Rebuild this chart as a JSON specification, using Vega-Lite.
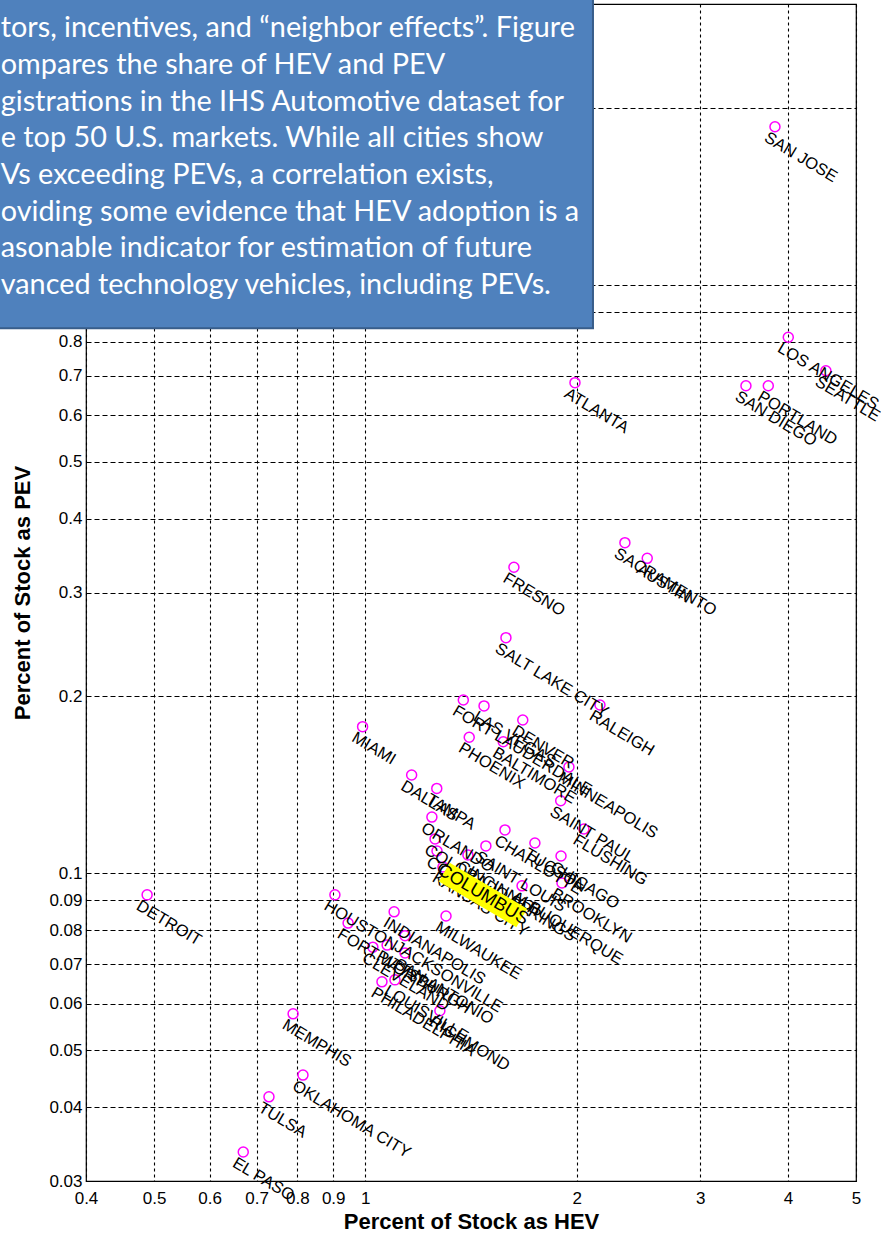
{
  "$schema": "https://vega.github.io/schema/vega-lite/v6.json",
  "width": 770,
  "height": 1177,
  "autosize": {"type": "none"},
  "padding": {"left": 86, "top": 4, "right": 25, "bottom": 56},
  "background": "white",
  "config": {
    "view": {"stroke": "#000000", "strokeWidth": 1.2},
    "axis": {
      "gridColor": "#000000", "gridOpacity": 1, "gridWidth": 1.1,
      "ticks": false, "domain": false,
      "labelFont": "Liberation Sans", "labelFontSize": 17, "labelColor": "#000000",
      "titleFont": "Liberation Sans", "titleFontSize": 22, "titleFontWeight": "bold", "titleColor": "#000000"
    }
  },
  "datasets": {
    "cities": [
      {"city": "SAN JOSE", "hev": 3.833, "pev": 1.856},
      {"city": "LOS ANGELES", "hev": 4.004, "pev": 0.8145},
      {"city": "SEATTLE", "hev": 4.53, "pev": 0.7143},
      {"city": "PORTLAND", "hev": 3.75, "pev": 0.6738},
      {"city": "SAN DIEGO", "hev": 3.485, "pev": 0.6738},
      {"city": "ATLANTA", "hev": 1.989, "pev": 0.6818},
      {"city": "SACRAMENTO", "hev": 2.343, "pev": 0.3646},
      {"city": "AUSTIN", "hev": 2.521, "pev": 0.3429},
      {"city": "FRESNO", "hev": 1.628, "pev": 0.3311},
      {"city": "SALT LAKE CITY", "hev": 1.586, "pev": 0.2514},
      {"city": "RALEIGH", "hev": 2.159, "pev": 0.1932},
      {"city": "FORT LAUDERDALE", "hev": 1.379, "pev": 0.197},
      {"city": "LAS VEGAS", "hev": 1.476, "pev": 0.1925},
      {"city": "DENVER", "hev": 1.676, "pev": 0.1822},
      {"city": "PHOENIX", "hev": 1.406, "pev": 0.1703},
      {"city": "BALTIMORE", "hev": 1.572, "pev": 0.1673},
      {"city": "MINNEAPOLIS", "hev": 1.95, "pev": 0.1516},
      {"city": "MIAMI", "hev": 0.991, "pev": 0.1775},
      {"city": "DALLAS", "hev": 1.164, "pev": 0.1469},
      {"city": "TAMPA", "hev": 1.264, "pev": 0.1394},
      {"city": "SAINT PAUL", "hev": 1.898, "pev": 0.1328},
      {"city": "ORLANDO", "hev": 1.244, "pev": 0.1246},
      {"city": "COLORADO SPRINGS", "hev": 1.257, "pev": 0.1144},
      {"city": "COLUMBUS", "hev": 1.265, "pev": 0.1091},
      {"city": "KANSAS CITY", "hev": 1.29, "pev": 0.1025},
      {"city": "CINCINNATI", "hev": 1.4, "pev": 0.1074},
      {"city": "SAINT LOUIS", "hev": 1.485, "pev": 0.1113},
      {"city": "CHARLOTTE", "hev": 1.581, "pev": 0.1185},
      {"city": "TUCSON", "hev": 1.744, "pev": 0.1126},
      {"city": "CHICAGO", "hev": 1.9, "pev": 0.107},
      {"city": "FLUSHING", "hev": 2.048, "pev": 0.1189},
      {"city": "BROOKLYN", "hev": 1.906, "pev": 0.0963},
      {"city": "ALBUQUERQUE", "hev": 1.672, "pev": 0.0952},
      {"city": "MILWAUKEE", "hev": 1.303, "pev": 0.0846},
      {"city": "DETROIT", "hev": 0.4888, "pev": 0.0919},
      {"city": "HOUSTON", "hev": 0.905, "pev": 0.0919},
      {"city": "FORT WORTH", "hev": 0.945, "pev": 0.0823},
      {"city": "INDIANAPOLIS", "hev": 1.099, "pev": 0.086},
      {"city": "JACKSONVILLE", "hev": 1.139, "pev": 0.0783},
      {"city": "SAN ANTONIO", "hev": 1.139, "pev": 0.0732},
      {"city": "CLEVELAND", "hev": 1.025, "pev": 0.0749},
      {"city": "PITTSBURGH", "hev": 1.074, "pev": 0.0755},
      {"city": "LOUISVILLE", "hev": 1.102, "pev": 0.0659},
      {"city": "PHILADELPHIA", "hev": 1.056, "pev": 0.0654},
      {"city": "RICHMOND", "hev": 1.277, "pev": 0.0584},
      {"city": "MEMPHIS", "hev": 0.789, "pev": 0.0577},
      {"city": "OKLAHOMA CITY", "hev": 0.815, "pev": 0.0454},
      {"city": "TULSA", "hev": 0.729, "pev": 0.0417},
      {"city": "EL PASO", "hev": 0.67, "pev": 0.0336}
    ],
    "note": [
      {
        "left": 0.28, "right": 2.11, "bottom": 0.844, "top": 5,
        "lines": [
          "tors, incentives, and “neighbor effects”. Figure",
          "ompares the share of HEV and PEV",
          "gistrations in the IHS Automotive dataset for",
          "e top 50 U.S. markets. While all cities show",
          "Vs exceeding PEVs, a correlation exists,",
          "oviding some evidence that HEV adoption is a",
          "asonable indicator for estimation of future",
          "vanced technology vehicles, including PEVs."
        ]
      }
    ]
  },
  "layer": [
    {
      "data": {"name": "cities"},
      "mark": {"type": "point", "shape": "circle", "filled": false, "stroke": "#ff00ff", "strokeWidth": 1.5, "size": 100, "opacity": 1},
      "encoding": {
        "x": {
          "field": "hev", "type": "quantitative",
          "scale": {"type": "log", "domain": [0.4, 5], "nice": false},
          "axis": {
            "title": "Percent of Stock as HEV",
            "values": [0.4, 0.5, 0.6, 0.7, 0.8, 0.9, 1, 2, 3, 4, 5],
            "format": "~g", "gridDash": [3, 3], "labelPadding": 9, "titlePadding": 5, "labelFlush": false
          }
        },
        "y": {
          "field": "pev", "type": "quantitative",
          "scale": {"type": "log", "domain": [0.03, 3], "nice": false},
          "axis": {
            "title": "Percent of Stock as PEV",
            "values": [0.03, 0.04, 0.05, 0.06, 0.07, 0.08, 0.09, 0.1, 0.2, 0.3, 0.4, 0.5, 0.6, 0.7, 0.8, 0.9, 1, 2, 3],
            "labelExpr": "datum.value > 0.85 ? '' : format(datum.value, '~g')",
            "gridDash": [5, 3], "labelPadding": 4, "titlePadding": 14, "labelFlush": false
          }
        }
      }
    },
    {
      "data": {"name": "cities"},
      "mark": {"type": "text", "angle": 31, "align": "left", "baseline": "top", "dx": -3, "dy": 5, "font": "Liberation Sans", "fontSize": 16.5, "fill": "#000000"},
      "encoding": {
        "x": {"field": "hev", "type": "quantitative"},
        "y": {"field": "pev", "type": "quantitative"},
        "text": {"field": "city", "type": "nominal"}
      }
    },
    {
      "data": {"name": "cities"},
      "transform": [{"filter": "datum.city === 'COLUMBUS'"}],
      "mark": {"type": "point", "shape": "M-1,-0.239L1,-0.239L1,0.239L-1,0.239Z", "angle": 30.6, "size": 8100, "filled": true, "fill": "#ffff00", "strokeWidth": 0, "opacity": 1, "xOffset": 46, "yOffset": 44},
      "encoding": {
        "x": {"field": "hev", "type": "quantitative"},
        "y": {"field": "pev", "type": "quantitative"}
      }
    },
    {
      "data": {"name": "cities"},
      "transform": [{"filter": "datum.city === 'COLUMBUS'"}],
      "mark": {"type": "text", "angle": 30.6, "align": "center", "baseline": "middle", "xOffset": 46, "yOffset": 44, "font": "Liberation Sans", "fontSize": 18, "fill": "#000000"},
      "encoding": {
        "x": {"field": "hev", "type": "quantitative"},
        "y": {"field": "pev", "type": "quantitative"},
        "text": {"field": "city", "type": "nominal"}
      }
    },
    {
      "data": {"name": "note"},
      "mark": {"type": "rect", "fill": "#4f81bd", "stroke": "#385d8a", "strokeWidth": 2},
      "encoding": {
        "x": {"field": "left", "type": "quantitative"},
        "x2": {"field": "right"},
        "y": {"field": "top", "type": "quantitative"},
        "y2": {"field": "bottom"}
      }
    },
    {
      "data": {"name": "note"},
      "mark": {"type": "text", "align": "left", "baseline": "alphabetic", "dx": 23.5, "dy": -291, "lineHeight": 36.7, "font": "Lato", "fontSize": 28.8, "fill": "#ffffff"},
      "encoding": {
        "x": {"field": "left", "type": "quantitative"},
        "y": {"field": "bottom", "type": "quantitative"},
        "text": {"field": "lines", "type": "nominal"}
      }
    }
  ]
}
